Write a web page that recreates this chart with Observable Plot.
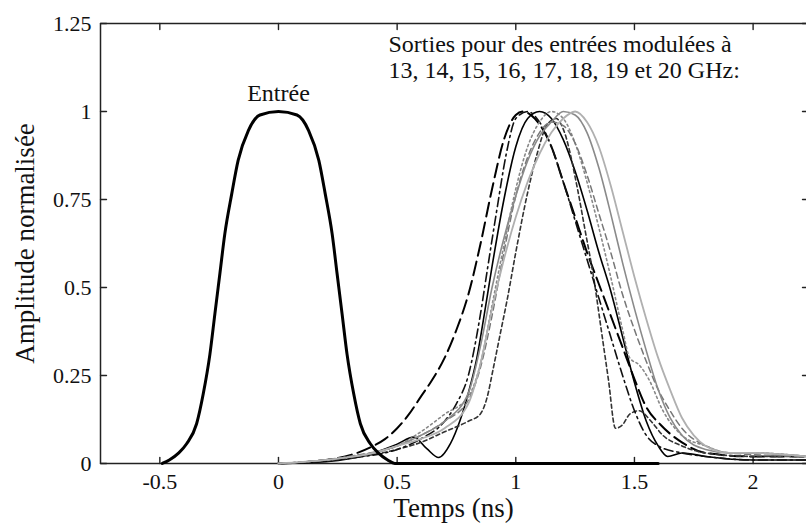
<!DOCTYPE html>
<html><head><meta charset="utf-8">
<script src="https://cdn.jsdelivr.net/npm/d3@7"></script>
<script src="https://cdn.jsdelivr.net/npm/@observablehq/plot@0.6"></script>
<style>html,body{margin:0;padding:0;background:#fff;overflow:hidden}</style>
</head><body><div id="chart"></div>
<script>
// ---- data ----
const xTicks = [-0.5, 0, 0.5, 1, 1.5, 2];
const yTicks = [0, 0.25, 0.5, 0.75, 1, 1.25];
const freqs = [13, 14, 15, 16, 17, 18, 19, 20];

const inputT = [-0.49, -0.46, -0.42, -0.387, -0.345, -0.317, -0.289, -0.268, -0.247, -0.226, -0.197, -0.17, -0.127, -0.078, 0, 0.078, 0.127, 0.17, 0.197, 0.226, 0.247, 0.268, 0.289, 0.317, 0.345, 0.387, 0.42, 0.46, 0.49, 0.7, 1.0, 1.6];
const inputA = [0, 0.01, 0.03, 0.056, 0.113, 0.198, 0.31, 0.425, 0.539, 0.653, 0.766, 0.861, 0.946, 0.99, 1.0, 0.99, 0.946, 0.861, 0.766, 0.653, 0.539, 0.425, 0.31, 0.198, 0.113, 0.056, 0.03, 0.01, 0, 0, 0, 0];

const t13 = [0, 0.2, 0.4, 0.45, 0.5, 0.55, 0.6, 0.65, 0.7, 0.75, 0.8, 0.85, 0.9, 0.95, 1.0, 1.03, 1.08, 1.15, 1.2, 1.25, 1.3, 1.35, 1.4, 1.45, 1.5, 1.55, 1.61, 1.7, 1.8, 2.0, 2.225];
const a13 = [0, 0.01, 0.05, 0.07, 0.1, 0.14, 0.19, 0.24, 0.3, 0.38, 0.48, 0.62, 0.78, 0.92, 0.99, 1.0, 0.98, 0.9, 0.8, 0.7, 0.6, 0.51, 0.42, 0.33, 0.24, 0.16, 0.11, 0.06, 0.03, 0.02, 0.02];

const t14 = [0, 0.2, 0.4, 0.5, 0.57, 0.625, 0.675, 0.725, 0.765, 0.8, 0.836, 0.864, 0.9, 0.95, 1.0, 1.05, 1.1, 1.15, 1.2, 1.25, 1.3, 1.35, 1.4, 1.45, 1.5, 1.55, 1.6, 1.64, 1.7, 1.8, 2.0, 2.225];
const a14 = [0, 0.005, 0.03, 0.055, 0.075, 0.042, 0.017, 0.057, 0.122, 0.2, 0.3, 0.41, 0.56, 0.75, 0.9, 0.98, 1.0, 0.98, 0.92, 0.83, 0.72, 0.6, 0.49, 0.36, 0.23, 0.12, 0.05, 0.02, 0.03, 0.02, 0.01, 0.01];

const t15 = [0, 0.3, 0.5, 0.6, 0.7, 0.8, 0.85, 0.88, 0.905, 0.935, 0.965, 1.0, 1.05, 1.09, 1.13, 1.17, 1.2, 1.26, 1.29, 1.33, 1.36, 1.39, 1.42, 1.45, 1.48, 1.52, 1.57, 1.62, 1.7, 1.8, 2.0, 2.225];
const a15 = [0, 0.015, 0.04, 0.06, 0.09, 0.12, 0.14, 0.19, 0.27, 0.37, 0.47, 0.6, 0.77, 0.88, 0.96, 0.98, 0.95, 0.78, 0.67, 0.52, 0.38, 0.24, 0.1, 0.11, 0.14, 0.15, 0.12, 0.08, 0.05, 0.03, 0.02, 0.02];

const t16 = [0, 0.3, 0.5, 0.6, 0.7, 0.75, 0.8, 0.85, 0.88, 0.92, 0.96, 1.0, 1.05, 1.1, 1.15, 1.2, 1.25, 1.3, 1.35, 1.4, 1.45, 1.5, 1.55, 1.6, 1.7, 1.8, 2.0, 2.225];
const a16 = [0, 0.015, 0.04, 0.07, 0.12, 0.17, 0.25, 0.42, 0.55, 0.72, 0.88, 0.98, 1.0, 0.97, 0.9, 0.8, 0.69, 0.58, 0.47, 0.36, 0.25, 0.15, 0.08, 0.05, 0.03, 0.02, 0.01, 0.01];

const t17 = [0, 0.3, 0.5, 0.6, 0.7, 0.8, 0.85, 0.9, 0.95, 1.0, 1.05, 1.1, 1.15, 1.2, 1.25, 1.3, 1.35, 1.4, 1.45, 1.48, 1.52, 1.56, 1.62, 1.7, 1.8, 1.9, 2.0, 2.225];
const a17 = [0, 0.02, 0.05, 0.09, 0.14, 0.19, 0.28, 0.45, 0.62, 0.78, 0.9, 0.97, 1.0, 0.98, 0.91, 0.8, 0.67, 0.53, 0.38, 0.3, 0.28, 0.24, 0.15, 0.08, 0.05, 0.03, 0.03, 0.02];

const t18 = [0, 0.3, 0.5, 0.6, 0.7, 0.8, 0.85, 0.9, 0.95, 1.0, 1.05, 1.1, 1.15, 1.2, 1.25, 1.3, 1.35, 1.4, 1.45, 1.5, 1.55, 1.6, 1.65, 1.7, 1.8, 1.9, 2.225];
const a18 = [0, 0.02, 0.05, 0.08, 0.12, 0.18, 0.27, 0.42, 0.6, 0.76, 0.87, 0.94, 0.97, 0.96, 0.91, 0.82, 0.71, 0.6, 0.48, 0.38, 0.29, 0.21, 0.15, 0.1, 0.05, 0.03, 0.02];

const t19 = [0, 0.2, 0.4, 0.5, 0.6, 0.7, 0.8, 0.85, 0.9, 0.95, 1.0, 1.05, 1.1, 1.15, 1.2, 1.25, 1.3, 1.35, 1.4, 1.45, 1.5, 1.55, 1.6, 1.65, 1.7, 1.8, 1.9, 2.0, 2.225];
const a19 = [0, 0.01, 0.03, 0.05, 0.08, 0.12, 0.2, 0.33, 0.5, 0.64, 0.76, 0.86, 0.93, 0.97, 1.0, 0.99, 0.94, 0.84, 0.71, 0.57, 0.44, 0.32, 0.21, 0.13, 0.08, 0.04, 0.03, 0.03, 0.02];

const t20 = [0, 0.2, 0.4, 0.5, 0.6, 0.7, 0.8, 0.85, 0.9, 0.95, 1.0, 1.05, 1.1, 1.15, 1.2, 1.25, 1.3, 1.35, 1.4, 1.45, 1.5, 1.55, 1.6, 1.65, 1.7, 1.75, 1.8, 1.9, 2.0, 2.225];
const a20 = [0, 0.01, 0.03, 0.05, 0.07, 0.1, 0.17, 0.28, 0.44, 0.58, 0.7, 0.8, 0.88, 0.94, 0.98, 1.0, 0.97, 0.9, 0.79, 0.66, 0.53, 0.41, 0.3, 0.21, 0.13, 0.08, 0.05, 0.03, 0.03, 0.02];

// ---- styles ----
const styles = {
  13: {stroke: "#000", strokeWidth: 2, strokeDasharray: "14,6"},
  14: {stroke: "#000", strokeWidth: 1.6},
  15: {stroke: "#333", strokeWidth: 1.6, strokeDasharray: "4,3"},
  16: {stroke: "#111", strokeWidth: 1.6, strokeDasharray: "9,4,2,4"},
  17: {stroke: "#888", strokeWidth: 1.6, strokeDasharray: "2,3"},
  18: {stroke: "#777", strokeWidth: 1.5, strokeDasharray: "6,4"},
  19: {stroke: "#8a8a8a", strokeWidth: 1.6},
  20: {stroke: "#b0b0b0", strokeWidth: 1.8}
};
const seriesT = {13: t13, 14: t14, 15: t15, 16: t16, 17: t17, 18: t18, 19: t19, 20: t20};
const seriesA = {13: a13, 14: a14, 15: a15, 16: a16, 17: a17, 18: a18, 19: a19, 20: a20};

const toRows = (T, A) => T.map((t, i) => ({t, a: A[i]}));
const inputRows = toRows(inputT, inputA);

const serif = "'Liberation Serif', 'Times New Roman', 'DejaVu Serif', serif";
const frameStroke = "#222";

const xMin = -0.75, xMax = 2.225, yMin = 0, yMax = 1.25;
const pxPerY = 440 / (yMax - yMin);
const pxPerX = 706 / (xMax - xMin);
const tickLen = 6;

// box (open on the right, whose edge falls outside the picture) and inward ticks, as polylines
const boxRows = [
  {t: xMax + 0.05, a: yMax, k: "box"}, {t: xMin, a: yMax, k: "box"},
  {t: xMin, a: yMin, k: "box"}, {t: xMax + 0.05, a: yMin, k: "box"}
];
const tickRows = [];
xTicks.forEach((v, i) => {
  tickRows.push({t: v, a: yMin, k: "b" + i}, {t: v, a: yMin + tickLen / pxPerY, k: "b" + i});
  tickRows.push({t: v, a: yMax, k: "t" + i}, {t: v, a: yMax - tickLen / pxPerY, k: "t" + i});
});
yTicks.forEach((v, i) => {
  tickRows.push({t: xMin, a: v, k: "l" + i}, {t: xMin + tickLen / pxPerX, a: v, k: "l" + i});
  tickRows.push({t: xMax, a: v, k: "r" + i}, {t: xMax - 4 / pxPerX, a: v, k: "r" + i});
});

const outLines = freqs.map(f => Plot.line(toRows(seriesT[f], seriesA[f]), {
  x: "t", y: "a", curve: "monotone-x", strokeLinejoin: "round", ...styles[f]
}));

const annotationText = "Sorties pour des entrées modulées à\n" +
  freqs.slice(0, -1).join(", ") + " et " + freqs[freqs.length - 1] + " GHz:";

const chart = Plot.plot({
  width: 806,
  height: 525,
  marginLeft: 100,
  marginRight: 0,
  marginTop: 23,
  marginBottom: 62,
  style: {fontFamily: serif, fontSize: "22px", background: "#fff"},
  x: {domain: [xMin, xMax]},
  y: {domain: [yMin, yMax]},
  marks: [
    Plot.line(boxRows, {x: "t", y: "a", z: "k", stroke: frameStroke, strokeWidth: 1.5}),
    Plot.line(tickRows, {x: "t", y: "a", z: "k", stroke: frameStroke, strokeWidth: 1.4}),
    Plot.axisX(xTicks, {tickSize: 0, tickPadding: 10, tickFormat: d => String(d), fontSize: 22, label: null, fill: "#111"}),
    Plot.axisY(yTicks, {tickSize: 0, tickPadding: 9, tickFormat: d => String(d), fontSize: 22, label: null, fill: "#111"}),
    // curves
    ...outLines,
    Plot.line(inputRows, {x: "t", y: "a", stroke: "#000", strokeWidth: 3, curve: "monotone-x"}),
    // annotations
    Plot.text(["Entrée"], {x: 0, y: 1.031, text: d => d, fontSize: 24, textAnchor: "middle", lineAnchor: "bottom", fill: "#111"}),
    Plot.text([annotationText], {x: 0.4636, y: 1.2216, text: d => d, fontSize: 24, textAnchor: "start", lineAnchor: "top", lineHeight: 1.08, fill: "#111"}),
    Plot.text(["Amplitude normalisée"], {frameAnchor: "left", dx: -75, rotate: -90, textAnchor: "middle", lineAnchor: "middle", text: d => d, fontSize: 27, fill: "#111"}),
    Plot.text(["Temps (ns)"], {frameAnchor: "bottom", dy: 53, textAnchor: "middle", lineAnchor: "bottom", text: d => d, fontSize: 27, fill: "#111"})
  ]
});
document.getElementById("chart").appendChild(chart);
</script>
</body></html>
